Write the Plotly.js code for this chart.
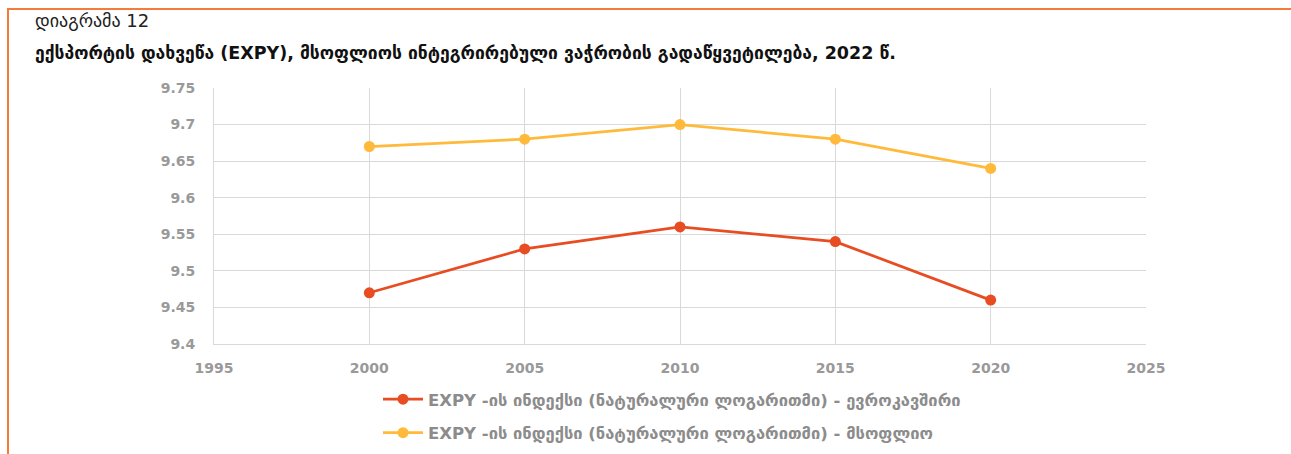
<!DOCTYPE html>
<html><head><meta charset="utf-8">
<script src="https://cdn.plot.ly/plotly-3.0.1.min.js"></script>
<style>
html,body{margin:0;padding:0;background:#fff;}
#wrap{position:relative;width:1291px;height:454px;overflow:hidden;}
#frame{position:absolute;left:7px;top:8px;width:1300px;height:460px;border-top:2px solid #F47B3B;border-left:2px solid #F47B3B;pointer-events:none;}
#chart{position:absolute;left:0;top:0;width:1291px;height:520px;}
</style></head>
<body><div id="wrap"><div id="chart"></div><div id="frame"></div></div>
<script>
const years = [2000, 2005, 2010, 2015, 2020];
const euValues = [9.47, 9.53, 9.56, 9.54, 9.46];
const worldValues = [9.67, 9.68, 9.70, 9.68, 9.64];
const seriesNames = [
  "EXPY -ის ინდექსი (ნატურალური ლოგარითმი) - ევროკავშირი",
  "EXPY -ის ინდექსი (ნატურალური ლოგარითმი) - მსოფლიო"
];
const yTickVals = [9.4, 9.45, 9.5, 9.55, 9.6, 9.65, 9.7, 9.75];
const yTickText = ["9.4", "9.45", "9.5", "9.55", "9.6", "9.65", "9.7", "9.75"];
const xTickVals = [1995, 2000, 2005, 2010, 2015, 2020, 2025];
const titleLine1 = "დიაგრამა 12";
const titleLine2 = "ექსპორტის დახვეწა (EXPY), მსოფლიოს ინტეგრირებული ვაჭრობის გადაწყვეტილება, 2022 წ.";

const W = 1291, H = 520, L = 214, R = 145, T = 88, B = H - 344;
const pw = W - L - R, ph = H - T - B;
const px = x => (x - L) / pw;
const py = y => (H - B - y) / ph;

const traces = [
  {x: years, y: euValues, name: seriesNames[0], type: 'scatter', mode: 'lines+markers',
   legendgroup: 'a',
   line: {color: '#E84C22', width: 2.75}, marker: {color: '#E84C22', size: 11}},
  {x: years, y: worldValues, name: seriesNames[1], type: 'scatter', mode: 'lines+markers',
   legendgroup: 'b',
   line: {color: '#FFBA3B', width: 2.75}, marker: {color: '#FFBA3B', size: 11}}
];

const tickFont = {family: 'DejaVu Sans, Verdana, sans-serif', size: 14, color: '#999999', weight: 'bold'};
const layout = {
  width: W, height: H,
  margin: {l: L, r: R, t: T, b: B, pad: 0},
  paper_bgcolor: '#ffffff', plot_bgcolor: '#ffffff',
  showlegend: true,
  xaxis: {range: [1995, 2025], tickvals: xTickVals, showgrid: true, gridcolor: '#d9d9d9',
          showline: true, linecolor: '#d9d9d9', linewidth: 1, zeroline: false, ticks: '',
          tickfont: tickFont, ticklabelstandoff: 11, fixedrange: true},
  yaxis: {range: [9.4, 9.75], tickvals: yTickVals, ticktext: yTickText, showgrid: true, gridcolor: '#d9d9d9',
          showline: true, linecolor: '#d9d9d9', linewidth: 1, zeroline: false, ticks: '',
          tickfont: tickFont, ticklabelstandoff: 15, fixedrange: true},
  legend: {orientation: 'v', x: px(378), y: py(382), xanchor: 'left', yanchor: 'top',
           traceorder: 'grouped', tracegroupgap: 9, itemwidth: 40,
           font: {family: 'DejaVu Sans, sans-serif', size: 16.5, color: '#8c8c8c', weight: 'bold'},
           bgcolor: 'rgba(0,0,0,0)'},
  annotations: [
    {text: titleLine1, xref: 'paper', yref: 'paper', x: px(33), y: py(20), xanchor: 'left', yanchor: 'middle',
     showarrow: false, font: {family: 'DejaVu Sans, sans-serif', size: 18, color: '#222222'}},
    {text: '<b>' + titleLine2 + '</b>', xref: 'paper', yref: 'paper', x: px(33), y: py(53), xanchor: 'left', yanchor: 'middle',
     showarrow: false, font: {family: 'DejaVu Sans, sans-serif', size: 17.5, color: '#111111'}}
  ]
};
Plotly.newPlot('chart', traces, layout, {displayModeBar: false, staticPlot: true});
</script></body></html>
